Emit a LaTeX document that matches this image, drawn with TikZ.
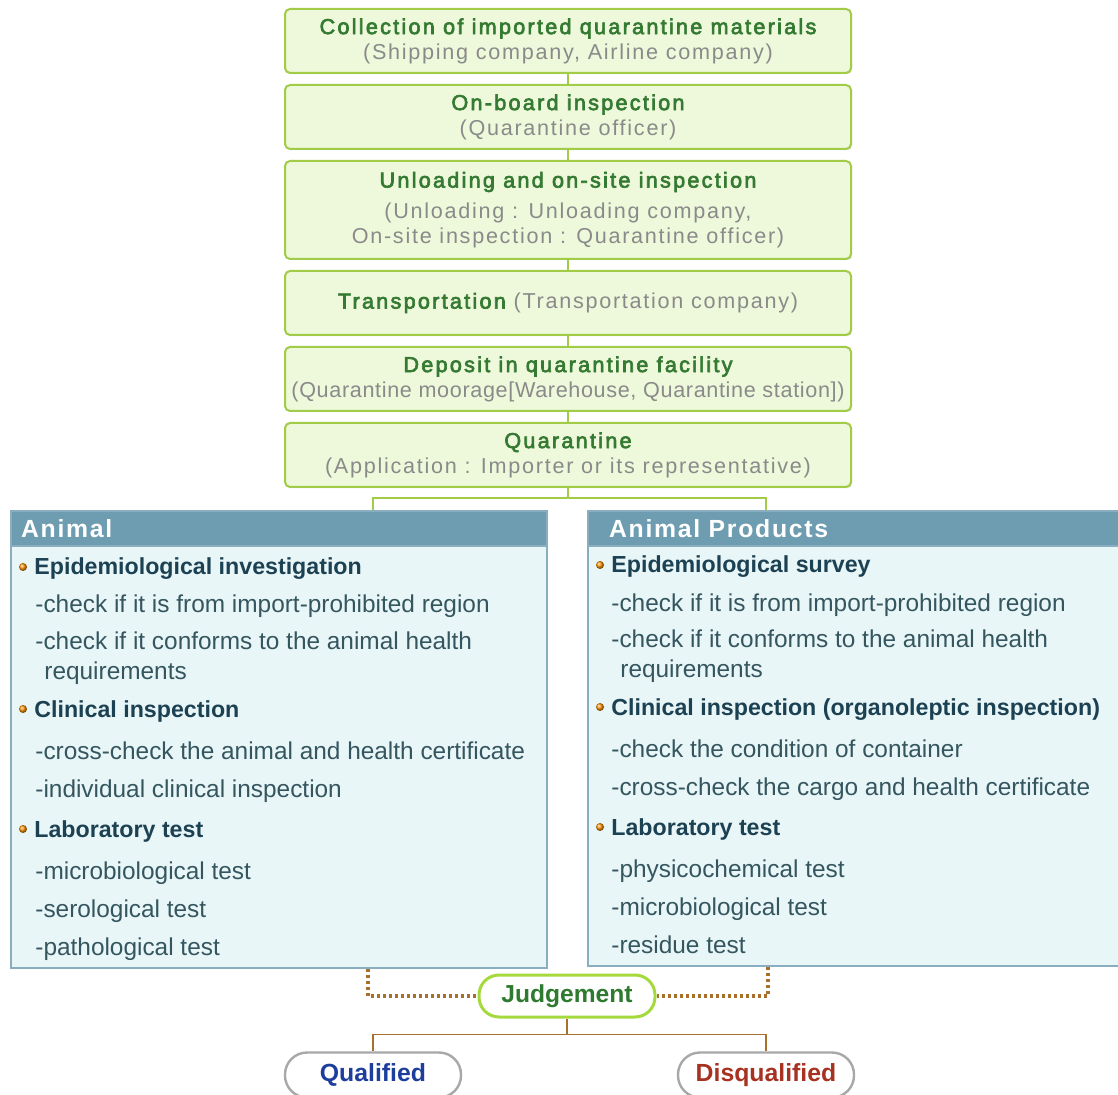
\documentclass[tikz,border=0pt]{standalone}
\usepackage{fontspec}
\setmainfont{Liberation Sans}
\newfontfamily\stepfont[LetterSpace=8]{Liberation Sans}
\newfontfamily\titlefont[LetterSpace=10.5, FakeBold=3]{Liberation Sans}
\newfontfamily\hdfont[LetterSpace=7]{Liberation Sans}
\usetikzlibrary{shadows}

\definecolor{stepfill}{HTML}{EEF8DA}
\definecolor{stepline}{HTML}{A2CC48}
\definecolor{titlegreen}{HTML}{357A32}
\definecolor{subgray}{HTML}{8A8A8A}
\definecolor{panelhead}{HTML}{6E9CB0}
\definecolor{panelfill}{HTML}{E8F6F8}
\definecolor{panelline}{HTML}{88AEBF}
\definecolor{headtext}{HTML}{1C4152}
\definecolor{itemtext}{HTML}{35565F}
\definecolor{judgebrown}{HTML}{A8702A}
\definecolor{judgeline}{HTML}{A6D93E}
\definecolor{judgetext}{HTML}{2E7A2E}
\definecolor{verdictline}{HTML}{A8A8A8}
\definecolor{qualblue}{HTML}{1E3E9E}
\definecolor{disqred}{HTML}{A83222}

\tikzset{
  stepbox/.style={draw=stepline, fill=stepfill, line width=1pt, rounded corners=2.5pt,
    minimum width=283pt, minimum height=32pt, inner sep=0pt, align=center, text=subgray,
    font=\stepfont\fontsize{10.8}{12.5}\selectfont,
    drop shadow={shadow xshift=.6pt, shadow yshift=-.6pt, opacity=.25}},
  link/.style={draw=stepline, line width=.9pt},
  panel/.style={draw=panelline, fill=panelfill, line width=1pt, inner sep=0pt, anchor=north west},
  panelhd/.style={draw=panelline, fill=panelhead, line width=1pt, anchor=north west,
    minimum height=17.5pt, inner xsep=5pt, inner ysep=0pt, align=left, text=white,
    font=\hdfont\bfseries\fontsize{12.4}{13}\selectfont},
  dot/.style={circle, inner sep=0pt, minimum size=4pt, ball color=orange!85!yellow},
  sechead/.style={anchor=base west, inner sep=0pt, text=headtext,
    font=\bfseries\fontsize{11.6}{13}\selectfont},
  checkitem/.style={anchor=base west, inner sep=0pt, text=itemtext,
    font=\fontsize{12.2}{13}\selectfont},
  judge/.style={draw=judgeline, fill=white, line width=1.5pt, rounded corners=10pt,
    minimum width=88pt, minimum height=21pt, text=judgetext,
    font=\bfseries\fontsize{12.3}{13}\selectfont},
  verdict/.style={draw=verdictline, fill=white, line width=1.2pt, rounded corners=11pt,
    minimum width=88pt, minimum height=22.5pt, font=\bfseries\fontsize{12.4}{13}\selectfont},
  dotline/.style={draw=judgebrown, line width=2pt, dash pattern=on 1.3pt off 1.7pt},
  brownline/.style={draw=judgebrown, line width=.9pt}
}
\newcommand\ttl[1]{\textcolor{titlegreen}{\titlefont #1}}

\begin{document}
\begin{tikzpicture}[x=.5pt, y=-.5pt]
\useasboundingbox (0,0) rectangle (1118,1095);

% steps before the quarantine
\node[stepbox] (collect) at (568,41) {\ttl{Collection of imported quarantine materials}\\(Shipping company, Airline company)};
\node[stepbox] (board) at (568,117) {\ttl{On-board inspection}\\(Quarantine officer)};
\node[stepbox, minimum height=49pt] (unload) at (568,210) {\ttl{Unloading and on-site inspection}\\[3pt](Unloading : Unloading company,\\On-site inspection : Quarantine officer)};
\node[stepbox] (trans) at (568,303) {\ttl{Transportation} (Transportation company)};
\node[stepbox] (deposit) at (568,379) {\ttl{Deposit in quarantine facility}\\{\addfontfeature{LetterSpace=3}(Quarantine moorage[Warehouse, Quarantine station])}};
\node[stepbox] (quar) at (568,455) {\ttl{Quarantine}\\(Application : Importer or its representative)};
\foreach \a/\b in {collect/board, board/unload, unload/trans, trans/deposit, deposit/quar}
  \draw[link] (\a) -- (\b);

% the two panels
\node[panel, minimum width=268pt, minimum height=228.5pt] (animal) at (10,510) {};
\node[panelhd, text width=258pt] (animalhd) at (animal.north west) {Animal};
\node[panel, minimum width=266.5pt, minimum height=227.5pt] (products) at (587,510) {};
\node[panelhd, inner xsep=10.5pt, text width=245.5pt] (productshd) at (products.north west) {Animal Products};

\foreach \y/\t [count=\n] in {567/Epidemiological investigation, 709/Clinical inspection, 829/Laboratory test}{
  \node[dot] (adot\n) at (23,\y) {};
  \node[sechead] (ahead\n) at (34,\y+8) {\t};}
\foreach \x/\y/\t [count=\n] in {35/605/-check if it is from import-prohibited region,
    35/641/-check if it conforms to the animal health, 44/671/requirements,
    35/751/-cross-check the animal and health certificate, 35/789/-individual clinical inspection,
    35/871/-microbiological test, 35/909/-serological test, 35/947/-pathological test}
  \node[checkitem] (aitem\n) at (\x,\y+8) {\t};

\foreach \y/\t [count=\n] in {565/Epidemiological survey, 707/Clinical inspection (organoleptic inspection), 827/Laboratory test}{
  \node[dot] (pdot\n) at (600,\y) {};
  \node[sechead] (phead\n) at (611,\y+8) {\t};}
\foreach \x/\y/\t [count=\n] in {611/603/-check if it is from import-prohibited region,
    611/639/-check if it conforms to the animal health, 620/669/requirements,
    611/749/-check the condition of container, 611/787/-cross-check the cargo and health certificate,
    611/869/-physicochemical test, 611/907/-microbiological test, 611/945/-residue test}
  \node[checkitem] (pitem\n) at (\x,\y+8) {\t};

% judgement
\node[judge] (judge) at (567,996) {Judgement};
\node[verdict, text=qualblue] (qual) at (373,1075) {Qualified};
\node[verdict, text=disqred] (disq) at (766,1075) {Disqualified};

\draw[link] (quar.south) -- ++(0,10) -| (qual |- animal.north);
\draw[link] (quar.south) -- ++(0,10) -| (disq |- products.north);
\draw[dotline] ([xshift=-2.5pt]qual |- animal.south) |- (judge.west);
\draw[dotline] ([xshift=1pt]disq |- products.south) |- (judge.east);
\draw[brownline] (judge.south) -- ++(0,16) -| (qual.north);
\draw[brownline] (judge.south) -- ++(0,16) -| (disq.north);
\end{tikzpicture}
\end{document}
